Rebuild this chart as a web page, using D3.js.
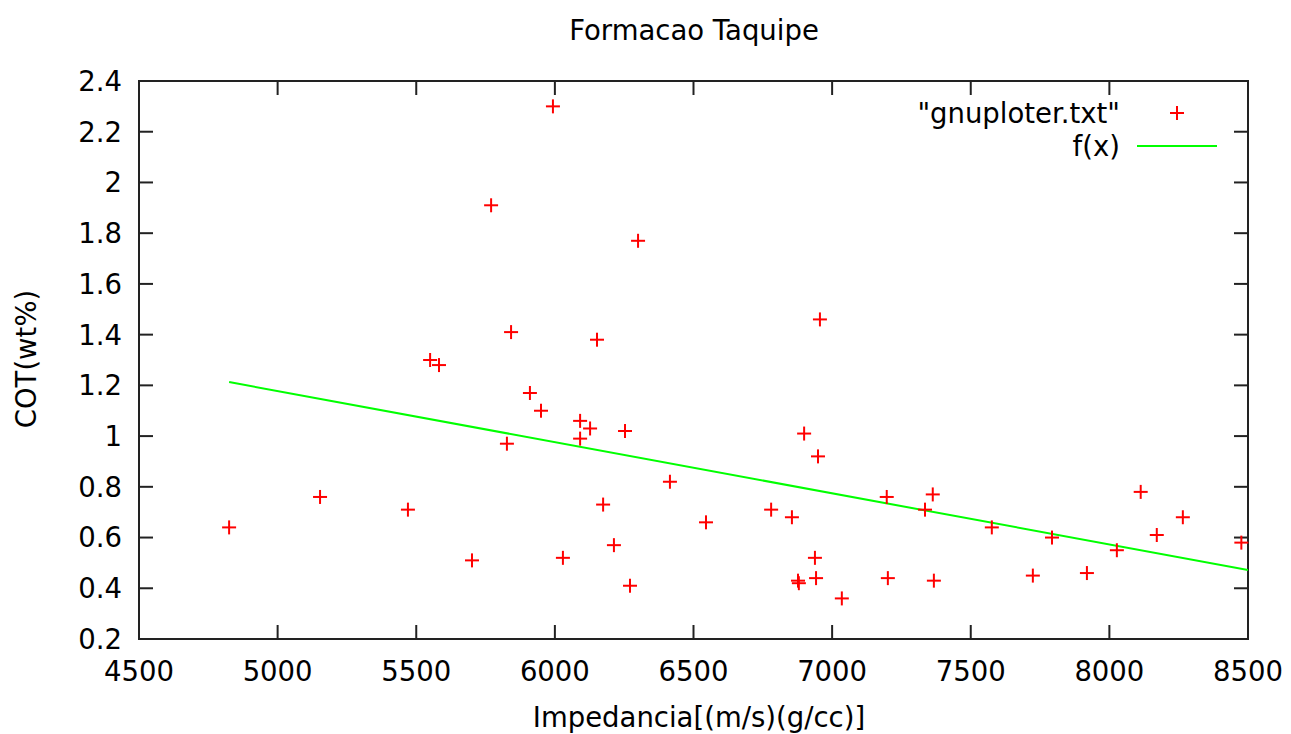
<!DOCTYPE html>
<html>
<head>
<meta charset="utf-8">
<script src="https://cdn.jsdelivr.net/npm/d3@7"></script>
<style>
  html, body { margin: 0; padding: 0; background: #fff; }
  svg { display: block; font-family: "DejaVu Sans", sans-serif; }
</style>
</head>
<body>
<svg id="chart" width="1291" height="734"></svg>
<script>
// ---- data ----
const impedancia = [4825, 5153, 5470, 5550, 5582, 5701, 5770, 5827, 5842, 5910,
  5950, 5993, 6029, 6091, 6091, 6127, 6152, 6174, 6213, 6253,
  6271, 6300, 6415, 6545, 6780, 6855, 6877, 6880, 6899, 6938,
  6942, 6949, 6956, 7035, 7197, 7201, 7335, 7363, 7367, 7576,
  7724, 7793, 7919, 8027, 8113, 8171, 8265, 8476];
const cot = [0.64, 0.76, 0.71, 1.30, 1.28, 0.51, 1.91, 0.97, 1.41, 1.17,
  1.10, 2.30, 0.52, 1.06, 0.99, 1.03, 1.38, 0.73, 0.57, 1.02,
  0.41, 1.77, 0.82, 0.66, 0.71, 0.68, 0.43, 0.42, 1.01, 0.52,
  0.44, 0.92, 1.46, 0.36, 0.76, 0.44, 0.71, 0.77, 0.43, 0.64,
  0.45, 0.60, 0.46, 0.55, 0.78, 0.61, 0.68, 0.58];
const fitX = [4825, 8500];
const fitY = [1.213, 0.472];
const xTicks = [4500, 5000, 5500, 6000, 6500, 7000, 7500, 8000, 8500];
const yTicks = [0.2, 0.4, 0.6, 0.8, 1.0, 1.2, 1.4, 1.6, 1.8, 2.0, 2.2, 2.4];
const yTickLabels = ["0.2", "0.4", "0.6", "0.8", "1", "1.2", "1.4", "1.6", "1.8", "2", "2.2", "2.4"];
const titleText = "Formacao Taquipe";
const xLabel = "Impedancia[(m/s)(g/cc)]";
const yLabel = "COT(wt%)";
const legendLabels = ["\"gnuploter.txt\"", "f(x)"];

// ---- layout ----
const L = 139, R = 1248, T = 81, B = 639;
const svg = d3.select("#chart");
const x = d3.scaleLinear().domain([4500, 8500]).range([L, R]);
const y = d3.scaleLinear().domain([0.2, 2.4]).range([B, T]);
const FS = 27.5;
const axisColor = "#222";
const tickLen = 14;

// clip
svg.append("defs").append("clipPath").attr("id", "clip")
  .append("rect").attr("x", L).attr("y", T).attr("width", R - L).attr("height", B - T);

// ticks (inward, mirrored)
const tg = svg.append("g").attr("stroke", axisColor).attr("stroke-width", 2);
xTicks.forEach(v => {
  const px = x(v);
  tg.append("line").attr("x1", px).attr("x2", px).attr("y1", B).attr("y2", B - tickLen);
  tg.append("line").attr("x1", px).attr("x2", px).attr("y1", T).attr("y2", T + tickLen);
});
yTicks.forEach(v => {
  const py = y(v);
  tg.append("line").attr("x1", L).attr("x2", L + tickLen).attr("y1", py).attr("y2", py);
  tg.append("line").attr("x1", R).attr("x2", R - tickLen).attr("y1", py).attr("y2", py);
});

// frame
svg.append("rect").attr("x", L).attr("y", T).attr("width", R - L).attr("height", B - T)
  .attr("fill", "none").attr("stroke", axisColor).attr("stroke-width", 2);

// tick labels
const lab = svg.append("g").attr("font-size", FS).attr("fill", "#000");
xTicks.forEach(v => {
  lab.append("text").attr("x", x(v)).attr("y", 681).attr("text-anchor", "middle").text(String(v));
});
yTicks.forEach((v, i) => {
  lab.append("text").attr("x", 122).attr("y", y(v)).attr("dy", "0.36em")
    .attr("text-anchor", "end").text(yTickLabels[i]);
});

// title and axis labels
svg.append("text").attr("x", 694).attr("y", 40).attr("text-anchor", "middle")
  .attr("font-size", FS).text(titleText);
svg.append("text").attr("x", 699).attr("y", 727).attr("text-anchor", "middle")
  .attr("font-size", FS).text(xLabel);
svg.append("text").attr("transform", "translate(36,359) rotate(-90)").attr("text-anchor", "middle")
  .attr("font-size", FS).text(yLabel);

// fit line
const line = d3.line().x((d, i) => x(fitX[i])).y(d => y(d));
svg.append("path").datum(fitY).attr("d", line).attr("clip-path", "url(#clip)")
  .attr("fill", "none").attr("stroke", "#00ff00").attr("stroke-width", 2);

// points (+ markers)
const pts = svg.append("g").attr("stroke", "#ff0000").attr("stroke-width", 2);
const ms = 7;
impedancia.forEach((v, i) => {
  const px = x(v), py = y(cot[i]);
  pts.append("line").attr("x1", px - ms).attr("x2", px + ms).attr("y1", py).attr("y2", py);
  pts.append("line").attr("x1", px).attr("x2", px).attr("y1", py - ms).attr("y2", py + ms);
});

// legend
const lg = svg.append("g");
lg.append("text").attr("x", 1120).attr("y", 113).attr("dy", "0.36em").attr("text-anchor", "end")
  .attr("font-size", FS).text(legendLabels[0]);
lg.append("text").attr("x", 1120).attr("y", 146).attr("dy", "0.36em").attr("text-anchor", "end")
  .attr("font-size", FS).text(legendLabels[1]);
lg.append("line").attr("x1", 1177 - ms).attr("x2", 1177 + ms).attr("y1", 113).attr("y2", 113)
  .attr("stroke", "#ff0000").attr("stroke-width", 2);
lg.append("line").attr("x1", 1177).attr("x2", 1177).attr("y1", 113 - ms).attr("y2", 113 + ms)
  .attr("stroke", "#ff0000").attr("stroke-width", 2);
lg.append("line").attr("x1", 1137).attr("x2", 1217).attr("y1", 146).attr("y2", 146)
  .attr("stroke", "#00ff00").attr("stroke-width", 2);
</script>
</body>
</html>
